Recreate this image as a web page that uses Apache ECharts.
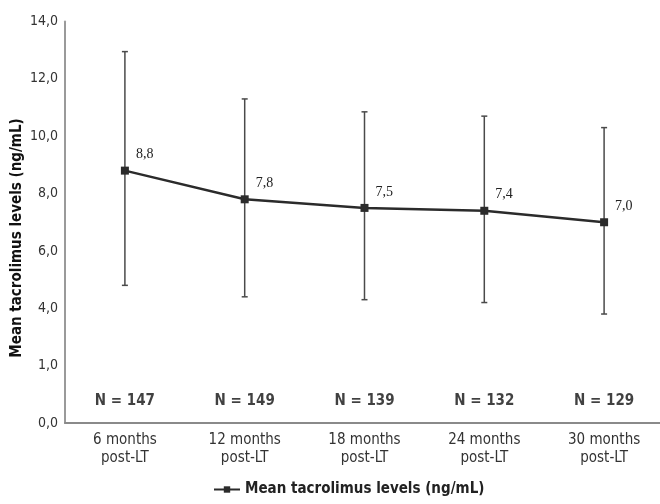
<!DOCTYPE html>
<html>
<head>
<meta charset="utf-8">
<script src="https://cdn.jsdelivr.net/npm/echarts@6/dist/echarts.min.js"></script>
<style>html,body{margin:0;padding:0;background:#fff}#c{width:660px;height:504px}</style>
</head>
<body>
<div id="c"></div>
<script>
const categories = ['6 months\npost-LT', '12 months\npost-LT', '18 months\npost-LT', '24 months\npost-LT', '30 months\npost-LT'];
const meanLevels = [8.8, 7.8, 7.5, 7.4, 7.0];
const errorLow = [4.8, 4.4, 4.3, 4.2, 3.8];
const errorHigh = [12.95, 11.3, 10.85, 10.7, 10.3];
const nCounts = [147, 149, 139, 132, 129];
const nLabelLevel = [0.75, 0.75, 0.75, 0.75, 0.75];
const yTickLabels = ['0,0', '1,0', '4,0', '6,0', '8,0', '10,0', '12,0', '14,0'];
const seriesName = 'Mean tacrolimus levels (ng/mL)';

const narrow = '"Liberation Sans Narrow", "DejaVu Sans Condensed", "Arial Narrow", sans-serif';
const chart = echarts.init(document.getElementById('c'));
chart.setOption({
  animation: false,
  backgroundColor: '#fff',
  grid: { left: 65, width: 599, top: 21.5, bottom: 81, containLabel: false, outerBoundsMode: 'none' },
  xAxis: {
    type: 'category',
    data: categories,
    axisLine: { lineStyle: { color: '#8a8a8a', width: 2 } },
    axisTick: { show: false },
    axisLabel: { color: '#333', fontFamily: narrow, fontSize: 15, lineHeight: 18, margin: 8 }
  },
  yAxis: {
    type: 'value',
    min: 0, max: 14, interval: 2,
    splitLine: { show: false },
    axisLine: { show: true, lineStyle: { color: '#9a9a9a', width: 2 } },
    axisTick: { show: false },
    axisLabel: {
      color: '#333', fontFamily: narrow, fontSize: 14, margin: 7,
      formatter: v => yTickLabels[Math.round(v / 2)]
    }
  },
  legend: {
    bottom: 2, left: 208,
    itemWidth: 26, itemHeight: 8,
    textStyle: { fontFamily: narrow, fontWeight: 'bold', fontSize: 15, color: '#222' },
    data: [seriesName]
  },
  graphic: [{
    type: 'text',
    x: 17, y: 238, rotation: Math.PI / 2,
    style: { text: seriesName, fontFamily: narrow, fontWeight: 'bold', fontSize: 15, fill: '#111', align: 'center', verticalAlign: 'middle' }
  }],
  series: [
    {
      type: 'custom',
      name: 'err',
      z: 1,
      data: errorLow.map((lo, i) => [i, lo, errorHigh[i]]),
      renderItem: (params, api) => {
        const x = api.coord([api.value(0), 0])[0];
        const yl = api.coord([api.value(0), api.value(1)])[1];
        const yh = api.coord([api.value(0), api.value(2)])[1];
        const cw = 3;
        const st = { stroke: '#4a4a4a', lineWidth: 1.5 };
        return {
          type: 'group',
          children: [
            { type: 'line', shape: { x1: x, y1: yl, x2: x, y2: yh }, style: st },
            { type: 'line', shape: { x1: x - cw, y1: yl, x2: x + cw, y2: yl }, style: st },
            { type: 'line', shape: { x1: x - cw, y1: yh, x2: x + cw, y2: yh }, style: st }
          ]
        };
      }
    },
    {
      type: 'line',
      name: seriesName,
      z: 3,
      data: meanLevels,
      symbol: 'rect',
      symbolSize: 8,
      lineStyle: { color: '#2b2b2b', width: 2.5 },
      itemStyle: { color: '#2b2b2b' },
      label: {
        show: true, position: 'right', offset: [2, -16],
        fontFamily: '"Liberation Serif", "DejaVu Serif", serif', fontSize: 14, color: '#222',
        formatter: p => p.value.toFixed(1).replace('.', ',')
      }
    },
    {
      type: 'scatter',
      name: 'N',
      symbolSize: 0,
      data: nLabelLevel,
      silent: true,
      label: {
        show: true, position: 'inside',
        fontFamily: narrow, fontWeight: 'bold', fontSize: 15, color: '#111',
        formatter: p => 'N = ' + nCounts[p.dataIndex]
      }
    }
  ]
});
</script>
</body>
</html>
